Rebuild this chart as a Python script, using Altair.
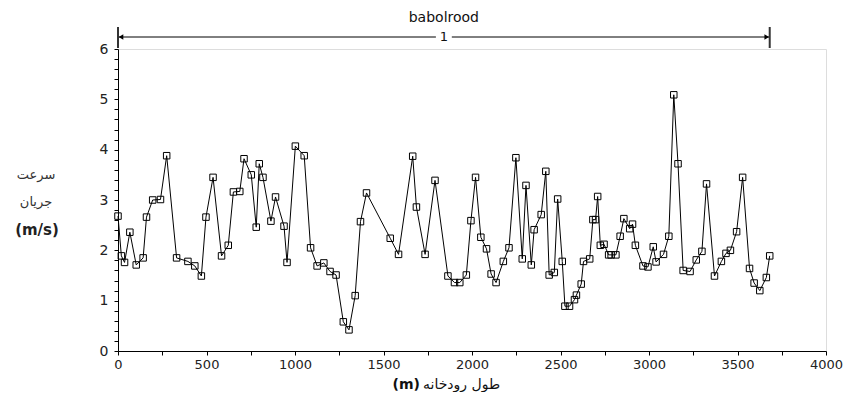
import altair as alt
import pandas as pd

# distance along the river (m) and flow velocity (m/s)
distance_m = [0, 19, 37, 67, 103, 142, 161, 196, 240, 275, 331, 395, 434, 471, 497, 537, 585, 623, 652, 688,
              712, 753, 781, 798, 819, 864, 890, 938, 955, 1002, 1052, 1088, 1125, 1163, 1198, 1232, 1273, 1305,
              1340, 1370, 1404, 1538, 1585, 1665, 1686, 1735, 1791, 1864, 1901, 1931, 1968, 1994, 2020, 2050,
              2082, 2108, 2136, 2177, 2209, 2248, 2284, 2305, 2335, 2351, 2391, 2417, 2436, 2465, 2484, 2510,
              2525, 2551, 2579, 2590, 2617, 2630, 2665, 2683, 2698, 2710, 2725, 2746, 2772, 2786, 2813, 2837,
              2858, 2891, 2907, 2923, 2966, 2994, 3024, 3040, 3082, 3112, 3140, 3164, 3193, 3232, 3267, 3299,
              3325, 3370, 3409, 3435, 3460, 3495, 3529, 3568, 3594, 3626, 3663, 3682]
velocity = [2.68, 1.89, 1.76, 2.36, 1.71, 1.85, 2.66, 3.00, 3.01, 3.88, 1.85, 1.78, 1.69, 1.49, 2.66, 3.45, 1.89,
            2.10, 3.16, 3.17, 3.82, 3.50, 2.46, 3.72, 3.45, 2.58, 3.06, 2.48, 1.76, 4.07, 3.88, 2.05, 1.69, 1.75,
            1.58, 1.51, 0.58, 0.42, 1.10, 2.57, 3.14, 2.24, 1.92, 3.87, 2.86, 1.92, 3.39, 1.49, 1.36, 1.36, 1.51,
            2.59, 3.45, 2.26, 2.03, 1.53, 1.36, 1.78, 2.05, 3.84, 1.83, 3.29, 1.71, 2.41, 2.71, 3.57, 1.51, 1.56,
            3.02, 1.78, 0.89, 0.89, 1.02, 1.11, 1.33, 1.78, 1.83, 2.61, 2.61, 3.07, 2.10, 2.12, 1.91, 1.91, 1.91,
            2.28, 2.63, 2.43, 2.52, 2.10, 1.69, 1.67, 2.07, 1.77, 1.92, 2.28, 5.09, 3.72, 1.60, 1.58, 1.81, 1.98,
            3.32, 1.49, 1.78, 1.94, 2.00, 2.37, 3.45, 1.64, 1.35, 1.20, 1.46, 1.89]

reach_start = 0
reach_end = 3682
reach_name = "babolrood"
reach_id = "1"

x_tick_values = list(range(0, 4001, 250))
y_tick_values = [round(i * 0.2, 1) for i in range(31)]

x_title_text = "طول رودخانه"
x_title_unit = "(m)"
y_title_lines = ["سرعت", "جریان", "(m/s)"]

FONT = "DejaVu Sans"

df = pd.DataFrame({"x": distance_m, "v": velocity})

xscale = alt.Scale(domain=[0, 4000], nice=False, zero=False)
yscale = alt.Scale(domain=[0, 6], nice=False)

x_axis = alt.Axis(
    values=x_tick_values, format="d",
    labelExpr="datum.value % 500 == 0 ? datum.label : ''",
    title=None, grid=False, tickSize=4, tickColor="black", domainColor="black",
    labelFont=FONT, labelFontSize=13, labelColor="#222", labelPadding=3,
    labelOverlap=False, labelFlush=False,
)
y_axis = alt.Axis(
    values=y_tick_values, format=".0f",
    labelExpr="abs(datum.value - round(datum.value)) < 0.01 ? datum.label : ''",
    title=None, grid=False, tickSize=4, tickColor="black", domainColor="black",
    labelFont=FONT, labelFontSize=14, labelColor="#222", labelPadding=6,
    labelOverlap=False, labelFlush=False,
)


def X(field):
    return alt.X(field, type="quantitative", scale=xscale, axis=x_axis)


def Y(field):
    return alt.Y(field, type="quantitative", scale=yscale, axis=y_axis)


base = alt.Chart(df)
line = base.mark_line(color="black", strokeWidth=1).encode(x=X("x"), y=Y("v"))
pts = base.mark_point(shape="square", filled=False, color="black", size=42, strokeWidth=1,
                      opacity=1).encode(x=X("x"), y=Y("v"))

mid = (reach_start + reach_end) / 2
gap = 45
seg_df = pd.DataFrame({"a": [reach_start, mid + gap], "b": [mid - gap, reach_end]})
segs = alt.Chart(seg_df).mark_rule(color="black", strokeWidth=1).encode(
    x=X("a"), x2="b", y=alt.value(-12))

ends_df = pd.DataFrame({"x": [reach_start, reach_end]})
ends = alt.Chart(ends_df).mark_rule(color="#333", strokeWidth=2).encode(
    x=X("x"), y=alt.value(-22), y2=alt.value(-1))

left_df = pd.DataFrame({"x": [reach_start]})
right_df = pd.DataFrame({"x": [reach_end]})
arrow_l = alt.Chart(left_df).mark_point(shape="triangle-left", filled=True, color="black", size=28,
                                        xOffset=3, opacity=1).encode(x=X("x"), y=alt.value(-12))
arrow_r = alt.Chart(right_df).mark_point(shape="triangle-right", filled=True, color="black", size=28,
                                         xOffset=-3, opacity=1).encode(x=X("x"), y=alt.value(-12))

lab_df = pd.DataFrame({"x": [mid], "name": [reach_name], "id": [reach_id]})
name_txt = alt.Chart(lab_df).mark_text(font=FONT, fontSize=14, color="#111", baseline="middle").encode(
    x=X("x"), y=alt.value(-31), text="name:N")
id_txt = alt.Chart(lab_df).mark_text(font=FONT, fontSize=13, color="#111", baseline="middle").encode(
    x=X("x"), y=alt.value(-12), text="id:N")

# x axis title: bold unit on the left, Persian words on the right
xt_df = pd.DataFrame({"t": [x_title_text]})
xt1 = alt.Chart(xt_df).mark_text(font=FONT, fontSize=14, color="#111", baseline="middle",
                                 align="left").encode(x=alt.value(305), y=alt.value(336), text="t:N")
xu_df = pd.DataFrame({"t": [x_title_unit]})
xt2 = alt.Chart(xu_df).mark_text(font=FONT, fontSize=14, fontWeight="bold", color="#111",
                                 baseline="middle", align="right").encode(
    x=alt.value(302), y=alt.value(336), text="t:N")

yt_df = pd.DataFrame({"t": [y_title_lines[0]]})
yt1 = alt.Chart(yt_df).mark_text(font=FONT, fontSize=13, color="#333", baseline="middle").encode(
    x=alt.value(-82), y=alt.value(126), text="t:N")
yt_df2 = pd.DataFrame({"t": [y_title_lines[1]]})
yt2 = alt.Chart(yt_df2).mark_text(font=FONT, fontSize=13, color="#333", baseline="middle").encode(
    x=alt.value(-82), y=alt.value(153), text="t:N")
yt_df3 = pd.DataFrame({"t": [y_title_lines[2]]})
yt3 = alt.Chart(yt_df3).mark_text(font=FONT, fontSize=15, fontWeight="bold", color="#222",
                                  baseline="middle").encode(
    x=alt.value(-81), y=alt.value(181), text="t:N")

chart = alt.layer(line, pts, segs, ends, arrow_l, arrow_r, name_txt, id_txt, xt1, xt2,
                  yt1, yt2, yt3).properties(
    width=708, height=302,
    padding={"left": 110, "top": 41, "right": 18, "bottom": 41},
    autosize=alt.AutoSizeParams(type="none"),
).configure_view(strokeWidth=0).configure(background="white")

chart.save("out.html", embed_options={"renderer": "svg", "actions": False})
